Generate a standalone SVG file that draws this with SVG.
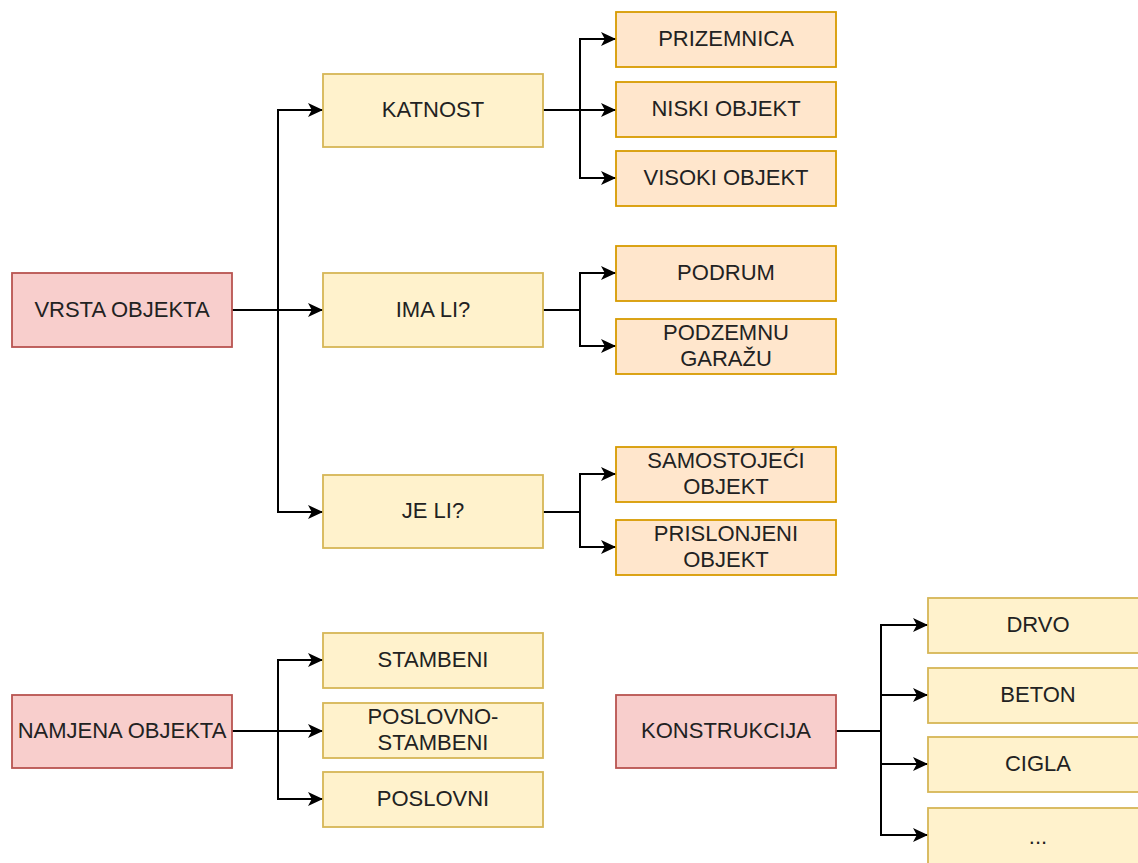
<svg xmlns="http://www.w3.org/2000/svg" width="1138" height="863" viewBox="0 0 1138 863">
<style>
.r{fill:#f8cecc;stroke:#b85450;stroke-width:1.8}
.y{fill:#fff2cc;stroke:#d6b656;stroke-width:1.8}
.o{fill:#ffe6cc;stroke:#d79b00;stroke-width:1.8}
text{font-family:"Liberation Sans",Arial,sans-serif;font-size:22px;fill:#222;text-anchor:middle}
.c{fill:none;stroke:#000;stroke-width:2}
</style>
<defs>
<marker id="a" markerUnits="userSpaceOnUse" markerWidth="15" markerHeight="14" refX="15" refY="7" orient="auto">
<path d="M0,0 L15,7 L0,14 L3.8,7 Z" fill="#000"/>
</marker>
</defs>
<rect width="1138" height="863" fill="#fff"/>
<g id="connectors">
<path class="c" d="M232,310 H278 V110 H323" marker-end="url(#a)"/>
<path class="c" d="M232,310 H323" marker-end="url(#a)"/>
<path class="c" d="M232,310 H278 V512 H323" marker-end="url(#a)"/>
<path class="c" d="M543,110 H580 V39 H616" marker-end="url(#a)"/>
<path class="c" d="M543,110 H616" marker-end="url(#a)"/>
<path class="c" d="M543,110 H580 V178 H616" marker-end="url(#a)"/>
<path class="c" d="M543,310 H580 V273 H616" marker-end="url(#a)"/>
<path class="c" d="M543,310 H580 V346 H616" marker-end="url(#a)"/>
<path class="c" d="M543,512 H580 V474 H616" marker-end="url(#a)"/>
<path class="c" d="M543,512 H580 V547 H616" marker-end="url(#a)"/>
<path class="c" d="M232,731 H278 V660 H323" marker-end="url(#a)"/>
<path class="c" d="M232,731 H323" marker-end="url(#a)"/>
<path class="c" d="M232,731 H278 V799 H323" marker-end="url(#a)"/>
<path class="c" d="M836,731 H881 V625 H928" marker-end="url(#a)"/>
<path class="c" d="M836,731 H881 V695 H928" marker-end="url(#a)"/>
<path class="c" d="M836,731 H881 V764 H928" marker-end="url(#a)"/>
<path class="c" d="M836,731 H881 V835 H928" marker-end="url(#a)"/>
</g>
<g id="vrsta"><rect class="r" x="12" y="273" width="220" height="74"/><text x="122" y="316.5">VRSTA OBJEKTA</text></g>
<g id="katnost"><rect class="y" x="323" y="74" width="220" height="73"/><text x="433" y="116.5">KATNOST</text></g>
<g id="imali"><rect class="y" x="323" y="273" width="220" height="74"/><text x="433" y="316.5">IMA LI?</text></g>
<g id="jeli"><rect class="y" x="323" y="475" width="220" height="73"/><text x="433" y="517.5">JE LI?</text></g>
<g id="prizemnica"><rect class="o" x="616" y="12" width="220" height="55"/><text x="726" y="46">PRIZEMNICA</text></g>
<g id="niski"><rect class="o" x="616" y="82" width="220" height="55"/><text x="726" y="116">NISKI OBJEKT</text></g>
<g id="visoki"><rect class="o" x="616" y="151" width="220" height="55"/><text x="726" y="185">VISOKI OBJEKT</text></g>
<g id="podrum"><rect class="o" x="616" y="246" width="220" height="55"/><text x="726" y="280">PODRUM</text></g>
<g id="podzemnu"><rect class="o" x="616" y="319" width="220" height="55"/><text x="726" y="340">PODZEMNU</text><text x="726" y="366">GARAŽU</text></g>
<g id="samostojeci"><rect class="o" x="616" y="447" width="220" height="55"/><text x="726" y="468">SAMOSTOJEĆI</text><text x="726" y="494">OBJEKT</text></g>
<g id="prislonjeni"><rect class="o" x="616" y="520" width="220" height="55"/><text x="726" y="541">PRISLONJENI</text><text x="726" y="567">OBJEKT</text></g>
<g id="namjena"><rect class="r" x="12" y="695" width="220" height="73"/><text x="122" y="738">NAMJENA OBJEKTA</text></g>
<g id="stambeni"><rect class="y" x="323" y="633" width="220" height="55"/><text x="433" y="667">STAMBENI</text></g>
<g id="poslovnostambeni"><rect class="y" x="323" y="703" width="220" height="55"/><text x="433" y="724">POSLOVNO-</text><text x="433" y="750">STAMBENI</text></g>
<g id="poslovni"><rect class="y" x="323" y="772" width="220" height="55"/><text x="433" y="806">POSLOVNI</text></g>
<g id="konstrukcija"><rect class="r" x="616" y="695" width="220" height="73"/><text x="726" y="738">KONSTRUKCIJA</text></g>
<g id="drvo"><rect class="y" x="928" y="598" width="220" height="55"/><text x="1038" y="632">DRVO</text></g>
<g id="beton"><rect class="y" x="928" y="668" width="220" height="55"/><text x="1038" y="702">BETON</text></g>
<g id="cigla"><rect class="y" x="928" y="737" width="220" height="55"/><text x="1038" y="771">CIGLA</text></g>
<g id="ostalo"><rect class="y" x="928" y="808" width="220" height="60"/><text x="1038" y="844">...</text></g>
</svg>
